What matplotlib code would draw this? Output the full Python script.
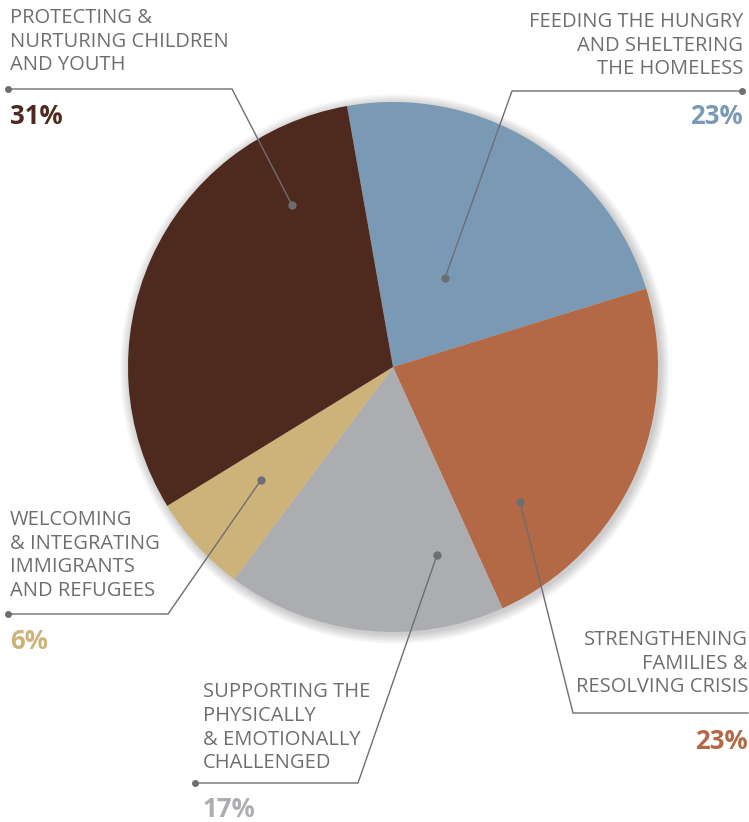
import matplotlib
matplotlib.use("Agg")
from matplotlib import pyplot as plt
from matplotlib.patches import Circle

plt.rcParams['font.family'] = ['Open Sans', 'DejaVu Sans']

W, H = 749, 822

# data (clockwise from the top)
categories = [
    "FEEDING THE HUNGRY\nAND SHELTERING\nTHE HOMELESS",
    "STRENGTHENING\nFAMILIES &\nRESOLVING CRISIS",
    "SUPPORTING THE\nPHYSICALLY\n& EMOTIONALLY\nCHALLENGED",
    "WELCOMING\n& INTEGRATING\nIMMIGRANTS\nAND REFUGEES",
    "PROTECTING &\nNURTURING CHILDREN\nAND YOUTH",
]
shares = [23, 23, 17, 6, 31]
colors = ["#7a99b4", "#b36946", "#acadb1", "#cdb379", "#4d2a1d"]

TXT = "#6d6e71"

def Y(y):
    # pixel row -> data y
    return H - y

fig = plt.figure(figsize=(W / 100, H / 100), dpi=100)
ax = fig.add_axes([0, 0, 1, 1])

cx, cy, r = 393, Y(367), 265

# soft shadow behind the pie
for k in range(10, 0, -1):
    ax.add_patch(Circle((cx + 2, cy - 2), r + k, color="black", alpha=0.02, lw=0, zorder=0))

ax.pie(shares, colors=colors, startangle=100, counterclock=False,
       center=(cx, cy), radius=r, frame=True,
       wedgeprops=dict(linewidth=0, zorder=1))

# leader lines: (dot in slice, elbow, end of horizontal rule)
leaders = [
    ((445, 278), (512, 91), (742, 91), True),
    ((520, 502), (573, 713), (748, 713), False),
    ((437, 555), (358, 783), (195, 783), True),
    ((261, 480), (168, 614), (8, 614), True),
    ((292, 205), (232, 89), (8, 89), True),
]
for (p0, p1, p2, enddot) in leaders:
    ax.plot([p0[0], p1[0], p2[0]], [Y(p0[1]), Y(p1[1]), Y(p2[1])],
            color=TXT, lw=1, zorder=3, solid_joinstyle="miter")
    ax.plot(p0[0], Y(p0[1]), "o", ms=5, color=TXT, zorder=4)
    if enddot:
        ax.plot(p2[0], Y(p2[1]), "o", ms=4, color=TXT, zorder=4)

# label text positions: (x, top of text, pct centre, alignment)
label_pos = [
    (743, 12, 116, "right"),
    (748, 630, 741, "right"),
    (203, 682, 809, "left"),
    (10, 510, 641, "left"),
    (10, 8, 116, "left"),
]
for cat, val, col, (x, ytop, yp, ha) in zip(categories, shares, colors, label_pos):
    ax.text(x, Y(ytop), cat, ha=ha, va="top", color=TXT, fontsize=14.5,
            linespacing=1.25, multialignment=ha)
    ax.text(x, Y(yp), f"{val}%", ha=ha, va="center", color=col,
            fontsize=18.5, fontweight="bold")

ax.set_xlim(0, W)
ax.set_ylim(0, H)
ax.set_aspect("equal")
ax.axis("off")

fig.savefig("out.png", dpi=100)
